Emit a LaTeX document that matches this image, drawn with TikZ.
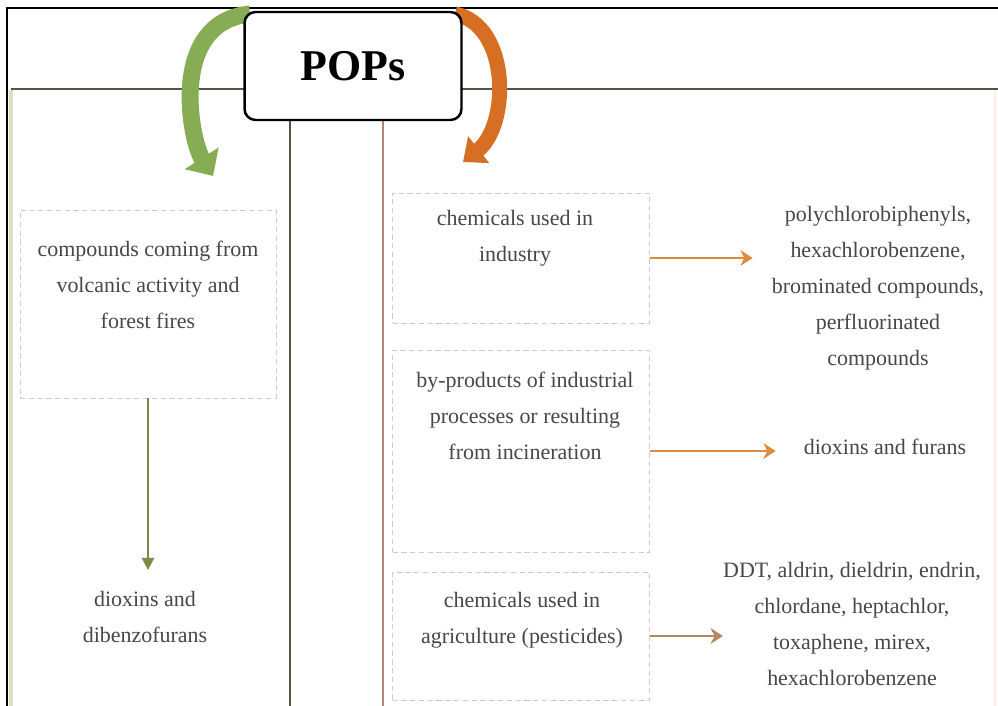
\documentclass[tikz,border=0pt]{standalone}
\usepackage{fontspec}
\setmainfont{Liberation Serif}
\usetikzlibrary{arrows.meta, positioning}
\definecolor{leafgreen}{RGB}{134,172,84}
\definecolor{rustorange}{RGB}{214,110,36}
\definecolor{arroworange}{RGB}{222,140,60}
\definecolor{arrowtan}{RGB}{180,135,95}
\definecolor{olivegreen}{RGB}{120,140,70}
\definecolor{panelline}{RGB}{85,85,70}
\definecolor{panelbrown}{RGB}{175,135,115}

\begin{document}
\begin{tikzpicture}[x=0.02cm, y=-0.02cm]
\tikzstyle{srcbox}=[rectangle, draw=black!20, densely dashed, thin,
  inner sep=0pt]
\tikzstyle{txt}=[align=center, text=black!72,
  font=\fontsize{12.5}{20.5}\selectfont]
\tikzstyle{popsbox}=[rectangle, draw, fill=white, line width=1.4pt,
  rounded corners=0.22cm, minimum width=4.34cm, minimum height=2.16cm,
  font=\fontsize{25}{30}\selectfont\bfseries]
\tikzstyle{greenarrow}=[-{Triangle[length=7pt,width=7pt]}, olivegreen,
  line width=1.3pt]
\tikzstyle{orangearrow}=[-{Stealth[length=7pt,width=9pt]}, arroworange,
  line width=1.6pt]

\useasboundingbox (0,0) rectangle (998,706);

% frame and panels
\draw[line width=1.3pt] (998,8) -- (7,8) -- (7,706);
\draw[leafgreen!35, line width=2pt] (11,90) -- (11,706);
\draw[orange!15, line width=1.5pt] (995,90) -- (995,706);
\draw[panelline, line width=1.2pt] (11,89) -- (998,89);
\draw[panelline, line width=1.2pt] (290,89) -- (290,706);
\draw[panelbrown, line width=1pt] (383,89) -- (383,706);

% curved arrows round the title
\draw[leafgreen, line width=0.34cm, -{Triangle[length=0.42cm,width=0.78cm]}]
  (250,14) .. controls (168,22) and (190,140) .. (213,176);
\draw[rustorange, line width=0.3cm, -{Triangle[length=0.4cm,width=0.66cm]}]
  (455,14) .. controls (510,25) and (510,125) .. (463,162);

\node (pops) [popsbox] at (353,66) {POPs};

% natural sources
\node (natbox) [srcbox, minimum width=5.12cm, minimum height=3.76cm]
  at (148,304) {};
\node (nattext) [txt] at (148,285)
  {compounds coming from\\volcanic activity and\\forest fires};
\node (dibenzo) [txt] at (145,617) {dioxins and\\dibenzofurans};
\draw [greenarrow, shorten >=0.3cm] (natbox.south) -- (natbox.south |- dibenzo.north);

% anthropogenic sources
\node (indbox) [srcbox, minimum width=5.14cm, minimum height=2.6cm]
  at (521,258) {};
\node (bybox) [srcbox, minimum width=5.14cm, minimum height=4.04cm]
  at (521,451) {};
\node (agrbox) [srcbox, minimum width=5.14cm, minimum height=2.56cm]
  at (521,636) {};

\node (indtext) [txt] at (515,238) {chemicals used in\\industry};
\node (bytext) [txt] at (525,416)
  {by-products of industrial\\processes or resulting\\from incineration};
\node (agrtext) [txt] at (522,620)
  {chemicals used in\\agriculture (pesticides)};

\node (pcb) [txt] at (878,288)
  {polychlorobiphenyls,\\hexachlorobenzene,\\brominated compounds,\\perfluorinated\\compounds};
\node (furans) [txt] at (885,447) {dioxins and furans};
\node (ddt) [txt, inner xsep=0pt] at (852,624)
  {DDT, aldrin, dieldrin, endrin,\\chlordane, heptachlor,\\toxaphene, mirex,\\hexachlorobenzene};

\draw [orangearrow, shorten >=0.26cm] (indbox.east) -- (indbox.east -| pcb.west);
\draw [orangearrow, shorten >=0.44cm] (bybox.east) -- (bybox.east -| furans.west);
\draw [orangearrow, arrowtan] (agrbox.east) -- (agrbox.east -| ddt.west);
\end{tikzpicture}
\end{document}
